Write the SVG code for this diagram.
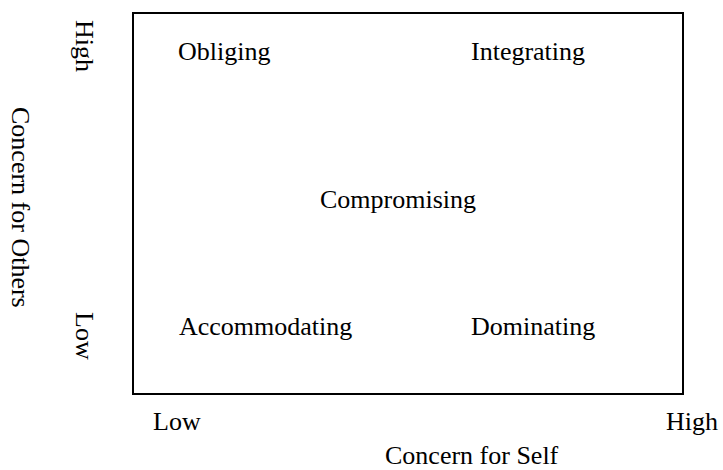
<svg xmlns="http://www.w3.org/2000/svg" width="723" height="470" viewBox="0 0 723 470">
<style>
text{font-family:"Liberation Serif","Times New Roman",serif;font-size:26px;fill:#000}
.frame{fill:none;stroke:#000;stroke-width:2}
</style>
<rect width="723" height="470" fill="#fff"/>
<g id="frame"><rect class="frame" x="133" y="13" width="550" height="381"/></g>
<g id="connectors"></g>
<g id="obliging"><text x="178" y="60">Obliging</text></g>
<g id="integrating"><text x="471" y="60">Integrating</text></g>
<g id="compromising"><text x="320" y="208">Compromising</text></g>
<g id="accommodating"><text x="179" y="335">Accommodating</text></g>
<g id="dominating"><text x="471" y="335">Dominating</text></g>
<g id="x-axis">
<text x="153" y="430">Low</text>
<text x="666" y="430">High</text>
<text x="385" y="464">Concern for Self</text>
</g>
<g id="y-axis">
<text transform="translate(76,20) rotate(90)">High</text>
<text transform="translate(76,312) rotate(90)">Low</text>
<text transform="translate(12,107) rotate(90)">Concern for Others</text>
</g>
</svg>
